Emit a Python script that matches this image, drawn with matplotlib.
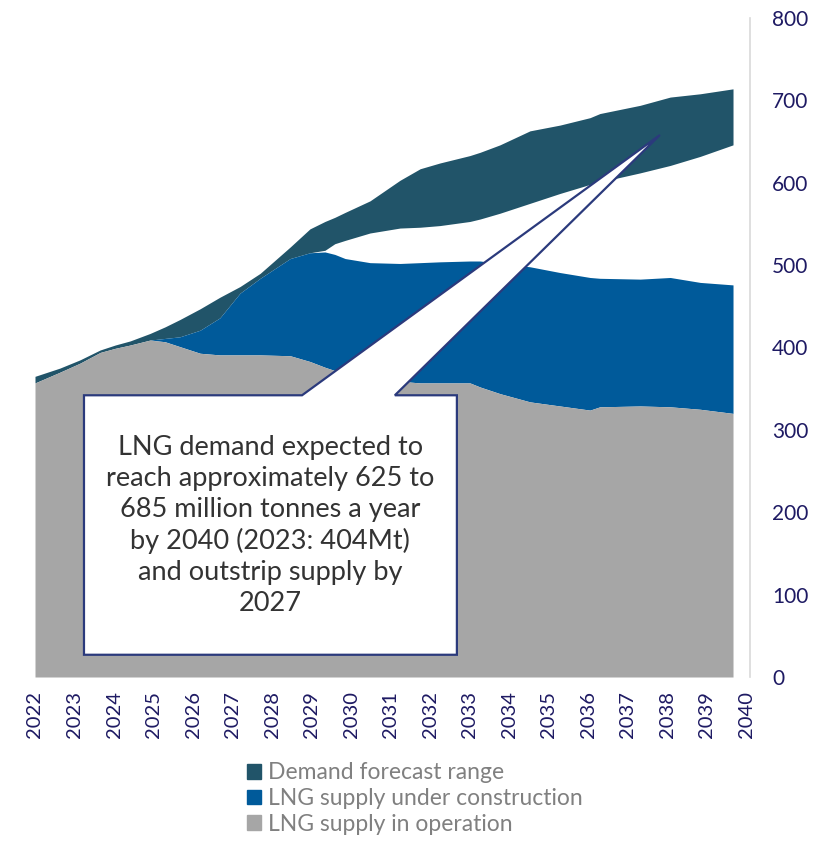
import numpy as np
import matplotlib.pyplot as plt
from matplotlib.patches import Polygon, Patch

# digitised years (fractional)
years = [2022.0, 2022.63, 2023.14, 2023.65, 2024.03, 2024.41, 2024.91, 2025.29,
         2025.67, 2026.18, 2026.68, 2027.19, 2027.70, 2028.46, 2028.96, 2029.34,
         2029.59, 2029.85, 2030.48, 2031.24, 2031.75, 2032.25, 2033.01, 2033.27,
         2033.77, 2034.53, 2035.29, 2036.05, 2036.30, 2037.32, 2038.08, 2038.84,
         2039.67]

supply_operation = [357, 370, 381, 394, 399, 403, 409, 407, 401, 393, 391, 391,
                    391, 390, 383, 376, 372, 368, 363, 359, 357, 357, 357, 352,
                    344, 334, 329, 324, 328, 329, 328, 325, 320]

supply_total = [357, 370, 381, 394, 399, 403, 409, 411, 413, 421, 436, 466,
                484, 508, 515, 516, 513, 508, 503, 502, 503, 504, 505, 505,
                502, 498, 491, 485, 484, 483, 485, 479, 476]

demand_low = [357, 370, 381, 394, 399, 403, 409, 411, 413, 421, 436, 466,
              484, 508, 515, 518, 526, 530, 539, 545, 546, 548, 553, 556,
              563, 575, 587, 598, 601, 612, 621, 632, 646]

demand_high = [365, 375, 385, 397, 403, 408, 417, 425, 434, 447, 461, 474,
               490, 522, 544, 553, 558, 564, 578, 603, 617, 624, 633, 637,
               646, 663, 670, 679, 684, 694, 704, 708, 714]

year_labels = [str(y) for y in range(2022, 2041)]
y_ticks = [0, 100, 200, 300, 400, 500, 600, 700, 800]
series_names = ["Demand forecast range", "LNG supply under construction",
                "LNG supply in operation"]

c_demand = "#215469"
c_constr = "#005A9A"
c_oper = "#A6A6A6"
navy = "#1E1A63"
box_edge = "#2B3A7C"

plt.rcParams['font.family'] = ['Lato', 'DejaVu Sans']

fig = plt.figure(figsize=(8.19, 8.43), dpi=100)
ax = fig.add_axes([35 / 819, 1 - 677 / 843, 715 / 819, 659 / 843])

x = np.array(years)
ax.fill_between(x, demand_low, demand_high, color=c_demand, lw=0)
ax.fill_between(x, supply_operation, supply_total, color=c_constr, lw=0)
ax.fill_between(x, 0, supply_operation, color=c_oper, lw=0)

ax.set_xlim(2022, 2040.1)
ax.set_ylim(0, 800)

ax.set_xticks(range(2022, 2041))
ax.set_xticklabels(year_labels, rotation=90, fontsize=14.5, color=navy)
ax.set_yticks(y_ticks)
ax.set_yticklabels([str(v) for v in y_ticks], fontsize=15, color=navy)
ax.yaxis.tick_right()
ax.tick_params(axis='both', length=0)
ax.tick_params(axis='y', pad=16)
ax.tick_params(axis='x', pad=10)

for s in ['top', 'left', 'bottom']:
    ax.spines[s].set_visible(False)
ax.spines['right'].set_color('#D9D9D9')
ax.spines['right'].set_linewidth(1.2)

# callout box with pointer
bx0, bx1, by0, by1 = 2023.24, 2032.68, 27, 342
wl, wr = 2028.76, 2031.11
tip = (2037.82, 658)
callout = Polygon([(bx0, by1), (wl, by1), tip, (wr, by1), (bx1, by1),
                   (bx1, by0), (bx0, by0)], closed=True,
                  facecolor='white', edgecolor=box_edge, lw=1.6, zorder=5)
ax.add_patch(callout)
ax.text((bx0 + bx1) / 2, 184,
        "LNG demand expected to\nreach approximately 625 to\n"
        "685 million tonnes a year\nby 2040 (2023: 404Mt)\n"
        "and outstrip supply by\n2027",
        ha='center', va='center', fontsize=19.5, color='#333333',
        linespacing=1.3, zorder=6)

handles = [Patch(color=c_demand), Patch(color=c_constr), Patch(color=c_oper)]
fig.legend(handles, series_names, loc='upper left',
           bbox_to_anchor=(236 / 819, 1 - 751 / 843), frameon=False,
           fontsize=16.5, labelcolor='#808080', handlelength=0.6,
           handleheight=0.6, handletextpad=0.3, labelspacing=0.2,
           borderpad=0)

fig.savefig("out.png", dpi=100)
